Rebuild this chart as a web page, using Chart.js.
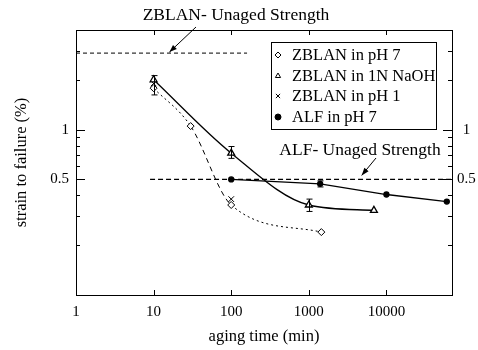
<!doctype html>
<html lang="en">

<head>
	<meta charset="utf-8">
	<title></title>
	<style>
		* {
			margin: 0;
			padding: 0;
		}

		body {
			background: white;
		}

		.chartBox {
			width: 478px;
			height: 350px;
		}
	</style>
</head>

<body>
	<div class="chartBox">
		<canvas id="strainChart"></canvas>
	</div>
	<script src="https://cdn.jsdelivr.net/npm/chart.js"></script>

	<script>
		const FONT = '"Liberation Serif", "Times New Roman", "DejaVu Serif", serif'

		// data (aging time in min, strain to failure in %)
		const ph7Time = [10, 30, 100, 1450]
		const ph7Strain = [1.78, 1.05, 0.35, 0.24]

		const naohTime = [10, 100, 1000, 6900]
		const naohStrain = [2.0, 0.72, 0.35, 0.325]

		const ph1Time = [10, 100]
		const ph1Strain = [1.9, 0.38]

		const alfTime = [100, 1400, 10000, 60000]
		const alfStrain = [0.5, 0.47, 0.405, 0.367]

		// unaged reference levels
		const zblanUnagedTime = [1, 160]
		const zblanUnaged = 2.9
		const alfUnagedTime = [9, 70000]
		const alfUnaged = 0.5

		// error bars: time, low, high
		const errTime = [10, 100, 1000, 1400]
		const errLow = [1.62, 0.67, 0.32, 0.45]
		const errHigh = [2.12, 0.79, 0.38, 0.49]

		const xTicks = [1, 10, 100, 1000, 10000]
		const yTicks = [0.1, 0.2, 0.3, 0.4, 0.5, 0.6, 0.7, 0.8, 0.9, 1, 2, 3, 4]
		const yLabeled = [0.5, 1]

		const pts = (xs, ys) => xs.map((x, i) => ({ x: x, y: ys[i] }))

		const ctx = document.getElementById('strainChart')

		// inward ticks + frame
		const frame = {
			id: 'frame',
			afterDatasetsDraw(chart) {
				const c = chart.ctx
				const a = chart.chartArea
				const sx = chart.scales.x
				const sy = chart.scales.y
				c.save()
				c.strokeStyle = '#000'
				c.lineWidth = 1
				c.strokeRect(a.left + 0.5, a.top + 0.5, a.right - a.left, a.bottom - a.top)
				c.beginPath()
				xTicks.forEach(v => {
					const px = Math.round(sx.getPixelForValue(v)) + 0.5
					c.moveTo(px, a.bottom); c.lineTo(px, a.bottom - 5)
					c.moveTo(px, a.top); c.lineTo(px, a.top + 5)
				})
				yTicks.forEach(v => {
					const py = Math.round(sy.getPixelForValue(v)) + 0.5
					const len = yLabeled.includes(v) ? 9 : 4
					c.moveTo(a.left, py); c.lineTo(a.left + len, py)
					c.moveTo(a.right, py); c.lineTo(a.right - len, py)
				})
				c.stroke()
				c.restore()
			}
		}

		const errorBars = {
			id: 'errorBars',
			afterDatasetsDraw(chart) {
				const c = chart.ctx
				const sx = chart.scales.x
				const sy = chart.scales.y
				c.save()
				c.strokeStyle = '#000'
				c.lineWidth = 1
				c.beginPath()
				errTime.forEach((t, i) => {
					const px = Math.round(sx.getPixelForValue(t)) + 0.5
					const y1 = sy.getPixelForValue(errLow[i])
					const y2 = sy.getPixelForValue(errHigh[i])
					c.moveTo(px, y1); c.lineTo(px, y2)
					c.moveTo(px - 3, y1); c.lineTo(px + 3, y1)
					c.moveTo(px - 3, y2); c.lineTo(px + 3, y2)
				})
				c.stroke()
				c.restore()
			}
		}

		const arrow = (c, x1, y1, x2, y2) => {
			const ang = Math.atan2(y2 - y1, x2 - x1)
			c.beginPath()
			c.moveTo(x1, y1); c.lineTo(x2, y2)
			c.stroke()
			c.beginPath()
			c.moveTo(x2, y2)
			c.lineTo(x2 - 8 * Math.cos(ang - 0.35), y2 - 8 * Math.sin(ang - 0.35))
			c.lineTo(x2 - 8 * Math.cos(ang + 0.35), y2 - 8 * Math.sin(ang + 0.35))
			c.closePath()
			c.fill()
		}

		const notes = {
			id: 'notes',
			afterDraw(chart) {
				const c = chart.ctx
				const sx = chart.scales.x
				const sy = chart.scales.y
				c.save()
				c.fillStyle = '#000'
				c.strokeStyle = '#000'
				c.lineWidth = 1
				c.font = '17.5px ' + FONT
				c.textAlign = 'center'
				c.textBaseline = 'middle'
				c.fillText('ZBLAN- Unaged Strength', 236, 15)
				arrow(c, 196, 27, sx.getPixelForValue(16), sy.getPixelForValue(zblanUnaged) - 1)
				c.fillText('ALF- Unaged Strength', 360, 150)
				arrow(c, 376, 158, sx.getPixelForValue(4800), sy.getPixelForValue(alfUnaged) - 4)

				// legend
				const lx = 271, ly = 42, lw = 165, lh = 87
				c.fillStyle = '#fff'
				c.fillRect(lx, ly, lw, lh)
				c.strokeRect(lx + 0.5, ly + 0.5, lw, lh)
				c.textAlign = 'left'
				c.font = '16.5px ' + FONT
				const rows = [55, 76, 96, 117]
				chart.data.datasets.slice(0, 4).forEach((ds, i) => {
					const y = rows[i]
					c.fillStyle = ds.pointBackgroundColor
					c.strokeStyle = '#000'
					Chart.helpers.drawPoint(c, {
						pointStyle: ds.pointStyle,
						radius: 3,
						borderWidth: 1
					}, 278, y)
					c.fillStyle = '#000'
					c.fillText(ds.label, 292, y + 1)
				})
				c.restore()
			}
		}

		const data = {
			datasets: [
				{
					label: 'ZBLAN in pH 7',
					data: pts(ph7Time, ph7Strain),
					borderColor: '#000',
					borderWidth: 1,
					borderDash: [2, 3],
					pointStyle: 'rectRot',
					pointRadius: 3.5,
					pointBackgroundColor: '#fff',
					pointBorderColor: '#000',
					cubicInterpolationMode: 'monotone',
					segment: {
						borderDash: s => s.p0DataIndex === 1 ? [5, 4] : [2, 3]
					}
				}, {
					label: 'ZBLAN in 1N NaOH',
					data: pts(naohTime, naohStrain),
					borderColor: '#000',
					borderWidth: 1.3,
					pointStyle: 'triangle',
					pointRadius: 4,
					pointBackgroundColor: '#fff',
					pointBorderColor: '#000',
					cubicInterpolationMode: 'monotone'
				}, {
					label: 'ZBLAN in pH 1',
					data: pts(ph1Time, ph1Strain),
					showLine: false,
					pointStyle: 'crossRot',
					pointRadius: 4,
					pointBorderColor: '#000',
					pointBackgroundColor: '#000'
				}, {
					label: 'ALF in pH 7',
					data: pts(alfTime, alfStrain),
					borderColor: '#000',
					borderWidth: 1.3,
					pointStyle: 'circle',
					pointRadius: 2.5,
					pointBackgroundColor: '#000',
					pointBorderColor: '#000',
					tension: 0
				}, {
					label: 'ZBLAN unaged',
					data: zblanUnagedTime.map(x => ({ x: x, y: zblanUnaged })),
					borderColor: '#000',
					borderWidth: 1,
					borderDash: [4, 3],
					pointRadius: 0
				}, {
					label: 'ALF unaged',
					data: alfUnagedTime.map(x => ({ x: x, y: alfUnaged })),
					borderColor: '#000',
					borderWidth: 1.2,
					borderDash: [5, 3],
					pointRadius: 0
				}
			]
		};

		const yAxis = (pos, width, padding, cross) => ({
			type: 'logarithmic',
			position: pos,
			min: 0.1,
			max: 4,
			afterBuildTicks: s => { s.ticks = yTicks.map(v => ({ value: v })) },
			afterFit: s => { s.width = width },
			grid: { display: false, drawTicks: false },
			border: { display: false },
			ticks: {
				autoSkip: false,
				padding: padding,
				crossAlign: cross,
				color: '#000',
				font: { family: FONT, size: 15 },
				callback: v => yLabeled.includes(v) ? String(v) : ''
			}
		})

		const config = {
			type: 'line',
			data,
			plugins: [frame, errorBars, notes],
			options: {
				responsive: true,
				maintainAspectRatio: false,
				animation: false,
				layout: { padding: { top: 30, left: 0, right: 0, bottom: 0 } },
				scales: {
					x: {
						type: 'logarithmic',
						position: 'bottom',
						min: 1,
						max: 70000,
						afterBuildTicks: s => { s.ticks = xTicks.map(v => ({ value: v })) },
						afterFit: s => { s.height = 55 },
						grid: { display: false, drawTicks: false },
						border: { display: false },
						ticks: {
							autoSkip: false,
							maxRotation: 0,
							padding: 8,
							color: '#000',
							font: { family: FONT, size: 15 },
							callback: v => String(v)
						},
						title: {
							display: true,
							text: 'aging time (min)',
							color: '#000',
							font: { family: FONT, size: 16.5 },
							padding: { top: 0, bottom: 3 }
						}
					},
					y: Object.assign(yAxis('left', 76, 7, 'near'), {
						title: {
							display: true,
							text: 'strain to failure (%)',
							color: '#000',
							font: { family: FONT, size: 16.5 },
							padding: { top: 12, bottom: 0 }
						}
					}),
					y2: yAxis('right', 26, 5, 'center')
				},
				plugins: {
					legend: { display: false },
					tooltip: { enabled: false }
				}
			}
		};

		const strainChart = new Chart(ctx, config);
	</script>

</body>

</html>
